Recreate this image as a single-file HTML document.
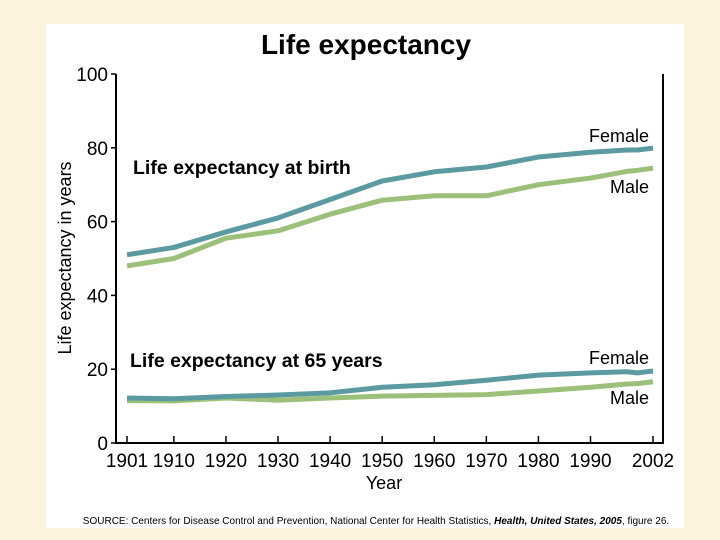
<!DOCTYPE html>
<html><head><meta charset="utf-8"><style>
body{margin:0;background:#fcf3dc;width:720px;height:540px;overflow:hidden;font-family:"Liberation Sans",sans-serif}
</style></head><body>
<svg width="720" height="540" style="position:absolute;left:0;top:0">
<rect x="46" y="24" width="638" height="504" fill="#fff"/>
<text x="366" y="54" text-anchor="middle" font-size="28" font-weight="bold">Life expectancy</text>
<g id="axes"></g><g id="lines"></g>
<text x="133" y="174" font-size="19.5" font-weight="bold">Life expectancy at birth</text>
<text x="130" y="367" font-size="19.5" font-weight="bold">Life expectancy at 65 years</text>
<text x="649" y="142" text-anchor="end" font-size="18">Female</text>
<text x="649" y="193" text-anchor="end" font-size="18">Male</text>
<text x="649" y="364" text-anchor="end" font-size="18">Female</text>
<text x="649" y="404" text-anchor="end" font-size="18">Male</text>
<text x="384" y="489" text-anchor="middle" font-size="18">Year</text>
<text transform="translate(71,258) rotate(-90)" text-anchor="middle" font-size="18">Life expectancy in years</text>
<text x="376" y="524" text-anchor="middle" font-size="10">SOURCE: Centers for Disease Control and Prevention, National Center for Health Statistics, <tspan font-weight="bold" font-style="italic">Health, United States, 2005</tspan>, figure 26.</text>
</svg>
<script>
const years=[1901,1910,1920,1930,1940,1950,1960,1970,1980,1990,1997,1999,2002];
const femaleBirth=[51,53,57.2,61,66,71,73.5,74.8,77.5,78.8,79.4,79.4,79.9];
const maleBirth=[48,50,55.5,57.5,62,65.8,67,67,70,71.8,73.6,73.9,74.5];
const female65=[12.2,12,12.6,13,13.6,15.1,15.8,17,18.4,19,19.3,19,19.5];
const male65=[11.5,11.4,12.2,11.6,12.2,12.7,12.9,13.1,14.1,15.1,16,16.1,16.6];
const xTicks=[1901,1910,1920,1930,1940,1950,1960,1970,1980,1990,2002];
const yTicks=[0,20,40,60,80,100];
const NS="http://www.w3.org/2000/svg";
const X=y=>127+(y-1901)*(653-127)/101;
const Y=v=>443-v*3.69;
function mk(t,a,p){const e=document.createElementNS(NS,t);for(const k in a)e.setAttribute(k,a[k]);p.appendChild(e);return e;}
const ax=document.getElementById('axes'),ln=document.getElementById('lines');
const box=mk('path',{d:`M116 ${Y(100)}V443H663V${Y(100)}`,fill:'none',stroke:'#000','stroke-width':2},ax);


yTicks.forEach(v=>{
 const t=mk('line',{x1:111,x2:116,y1:Y(v),y2:Y(v),stroke:'#000','stroke-width':1.5},ax);
 
 
 const l=mk('text',{x:108,y:Y(v)+7,'text-anchor':'end','font-size':19},ax);l.textContent=v;
 
 
});
xTicks.forEach(v=>{
 const t=mk('line',{x1:X(v),x2:X(v),y1:436,y2:443,stroke:'#000','stroke-width':1.5},ax);
 
 
 const l=mk('text',{x:X(v),y:467,'text-anchor':'middle','font-size':19},ax);l.textContent=v;
 
 
});
[[maleBirth,'#9cc07a','male-birth-line'],[femaleBirth,'#5b9aa0','female-birth-line'],[male65,'#9cc07a','male-65-line'],[female65,'#5b9aa0','female-65-line']].forEach(([d,c,n],i)=>{
 const p=mk('polyline',{points:years.map((y,j)=>X(y)+','+Y(d[j])).join(' '),fill:'none',stroke:c,'stroke-width':5,'stroke-linejoin':'round'},ln);
 
 
});
</script>
</body></html>
